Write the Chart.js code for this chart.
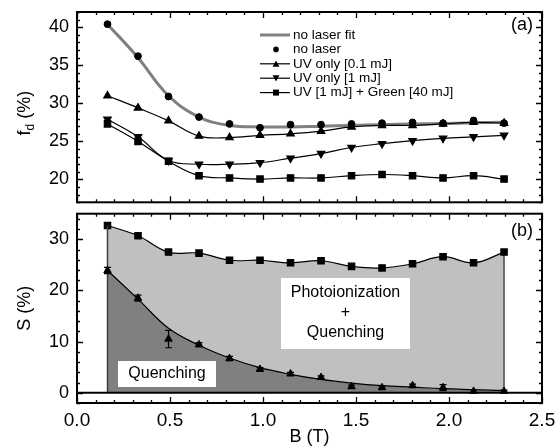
<!DOCTYPE html>
<html>
<head>
<meta charset="utf-8">
<script src="https://cdn.jsdelivr.net/npm/chart.js@4.4.0/dist/chart.umd.min.js"></script>
<style>
  body { margin: 0; background: #fff; }
  .box { position: absolute; left: 0; width: 559px; }
</style>
</head>
<body>
<div class="box" style="top:0;height:208px"><canvas id="topChart" width="559" height="208"></canvas></div>
<div class="box" style="top:208px;height:240px"><canvas id="botChart" width="559" height="240"></canvas></div>
<script>
// magnetic field values (T)
const B = [0.164, 0.328, 0.492, 0.656, 0.820, 0.984, 1.148, 1.312, 1.476, 1.640, 1.804, 1.968, 2.132, 2.296];

// panel (a): f_d (%)
const noLaserFit = [40.4, 36.0, 31.0, 28.2, 27.1, 26.9, 26.9, 27.0, 27.1, 27.2, 27.3, 27.35, 27.45, 27.5];
const noLaser    = [40.4, 36.2, 30.9, 28.2, 27.3, 26.8, 27.2, 27.2, 27.3, 27.4, 27.5, 27.4, 27.75, 27.4];
const uvLow      = [31.0, 29.4, 27.7, 25.7, 25.5, 25.8, 26.0, 26.35, 26.9, 27.1, 27.1, 27.3, 27.5, 27.4];
const uvHigh     = [27.9, 25.6, 22.5, 22.0, 22.0, 22.2, 22.8, 23.4, 24.2, 24.7, 25.1, 25.4, 25.6, 25.8];
const uvGreen    = [27.3, 25.0, 22.4, 20.5, 20.2, 20.05, 20.2, 20.2, 20.5, 20.65, 20.5, 20.2, 20.5, 20.05];

// panel (b): S (%)
const sTotal     = [32.7, 30.7, 27.5, 27.3, 25.9, 25.9, 25.4, 25.8, 24.7, 24.4, 25.2, 26.6, 25.4, 27.5];
const sQuench    = [23.9, 18.5, 10.5, 9.4, 6.7, 4.6, 3.7, 3.0, 1.2, 1.0, 1.4, 1.0, 0.3, 0.3];
const sQuenchErr = [0.6, 0.6, 1.7, 0.4, 0.4, 0.3, 0.3, 0.3, 0.3, 0.3, 0.3, 0.6, 0.3, 0.2];
const sQuenchFit = [23.9, 18.3, 12.6, 9.3, 6.8, 4.9, 3.6, 2.6, 1.9, 1.4, 1.1, 0.8, 0.6, 0.4];

// tick labels
const xTicks = [0.0, 0.5, 1.0, 1.5, 2.0, 2.5];
const topYTicks = [20, 25, 30, 35, 40];
const botYTicks = [0, 10, 20, 30];

Chart.defaults.font.family = "'Liberation Sans', Arial, sans-serif";
Chart.defaults.color = '#000';

const pts = (ys) => B.map((b, i) => ({ x: b, y: ys[i] }));

// no label overhang padding, so the plot boxes line up exactly
function noPad(s) { s.paddingTop = 0; s.paddingBottom = 0; s.paddingLeft = 0; s.paddingRight = 0; }

// inward ticks on all four sides + thick frame
const frameTicks = {
  id: 'frameTicks',
  afterDraw(chart, args, o) {
    const { ctx, chartArea: a, scales: { x, y } } = chart;
    ctx.save();
    ctx.strokeStyle = '#000';
    ctx.lineWidth = 1.3;
    const nx = Math.round((x.max - x.min) / o.xMinor);
    for (let i = 0; i <= nx; i++) {
      const v = x.min + i * o.xMinor;
      const len = (Math.abs(v / o.xMajor - Math.round(v / o.xMajor)) < 1e-6) ? 6 : 3;
      const px = Math.round(x.getPixelForValue(v)) + 0.5;
      ctx.beginPath();
      ctx.moveTo(px, a.top); ctx.lineTo(px, a.top + len);
      ctx.moveTo(px, a.bottom); ctx.lineTo(px, a.bottom - len);
      ctx.stroke();
    }
    const start = Math.ceil(y.min / o.yMinor), end = Math.floor(y.max / o.yMinor);
    for (let i = start; i <= end; i++) {
      const v = i * o.yMinor;
      const len = (Math.abs(v / o.yMajor - Math.round(v / o.yMajor)) < 1e-6) ? 6 : 3;
      const py = Math.round(y.getPixelForValue(v)) + 0.5;
      ctx.beginPath();
      ctx.moveTo(a.left, py); ctx.lineTo(a.left + len, py);
      ctx.moveTo(a.right, py); ctx.lineTo(a.right - len, py);
      ctx.stroke();
    }
    ctx.lineWidth = 2;
    ctx.strokeRect(a.left, a.top, a.right - a.left, a.bottom - a.top);
    ctx.restore();
  }
};

// legend, panel tag and y title of panel (a)
const topExtras = {
  id: 'topExtras',
  afterDraw(chart) {
    const { ctx, chartArea: a } = chart;
    ctx.save();
    ctx.fillStyle = '#000';
    ctx.strokeStyle = '#000';
    const rows = [
      { text: 'no laser fit', line: '#808080', lw: 3, marker: null },
      { text: 'no laser', line: null, marker: 'circle' },
      { text: 'UV only [0.1 mJ]', line: '#000', lw: 1.2, marker: 'triangle' },
      { text: 'UV only [1 mJ]', line: '#000', lw: 1.2, marker: 'triangleDown' },
      { text: 'UV [1 mJ] + Green [40 mJ]', line: '#000', lw: 1.2, marker: 'rect' }
    ];
    ctx.font = "13.5px 'Liberation Sans', Arial, sans-serif";
    ctx.textBaseline = 'middle';
    rows.forEach((r, i) => {
      const yy = 35 + i * 14.4;
      if (r.line) {
        ctx.beginPath();
        ctx.strokeStyle = r.line; ctx.lineWidth = r.lw;
        ctx.moveTo(260, yy); ctx.lineTo(290, yy); ctx.stroke();
      }
      if (r.marker) {
        ctx.beginPath();
        if (r.marker === 'circle') ctx.arc(276, yy, 2.8, 0, Math.PI * 2);
        if (r.marker === 'triangle') { ctx.moveTo(272.5, yy + 3); ctx.lineTo(279.5, yy + 3); ctx.lineTo(276, yy - 3.2); }
        if (r.marker === 'triangleDown') { ctx.moveTo(272.5, yy - 3); ctx.lineTo(279.5, yy - 3); ctx.lineTo(276, yy + 3.2); }
        if (r.marker === 'rect') ctx.rect(273, yy - 3, 6, 6);
        ctx.closePath();
        ctx.fill();
      }
      ctx.fillStyle = '#000';
      ctx.textAlign = 'left';
      ctx.fillText(r.text, 293, yy);
    });
    // panel tag
    ctx.font = "18px 'Liberation Sans', Arial, sans-serif";
    ctx.textAlign = 'right';
    ctx.fillText('(a)', a.right - 9, a.top + 13);
    // y title f_d (%)
    ctx.translate(25, (a.top + a.bottom) / 2 + 6);
    ctx.rotate(-Math.PI / 2);
    const big = "18px 'Liberation Sans', Arial, sans-serif";
    const small = "12px 'Liberation Sans', Arial, sans-serif";
    ctx.font = big; const w1 = ctx.measureText('f').width; const w3 = ctx.measureText(' (%)').width;
    ctx.font = small; const w2 = ctx.measureText('d').width;
    let sx = -(w1 + w2 + w3) / 2;
    ctx.textAlign = 'left';
    ctx.font = big; ctx.fillText('f', sx, 0); sx += w1;
    ctx.font = small; ctx.fillText('d', sx, 6); sx += w2;
    ctx.font = big; ctx.fillText(' (%)', sx, 0);
    ctx.restore();
  }
};

// error bars, text boxes and tag of panel (b)
const botExtras = {
  id: 'botExtras',
  afterDatasetsDraw(chart) {
    const { ctx, chartArea: a, scales: { x, y } } = chart;
    ctx.save();
    ctx.strokeStyle = '#000';
    ctx.lineWidth = 1.2;
    B.forEach((b, i) => {
      const px = x.getPixelForValue(b);
      const y1 = y.getPixelForValue(sQuench[i] - sQuenchErr[i]);
      const y2 = y.getPixelForValue(sQuench[i] + sQuenchErr[i]);
      ctx.beginPath();
      ctx.moveTo(px, y1); ctx.lineTo(px, y2);
      ctx.moveTo(px - 3.5, y1); ctx.lineTo(px + 3.5, y1);
      ctx.moveTo(px - 3.5, y2); ctx.lineTo(px + 3.5, y2);
      ctx.stroke();
    });
    ctx.fillStyle = '#fff';
    ctx.fillRect(281, 278 - 208, 129, 71);
    ctx.fillRect(118, 361 - 208, 98, 26);
    ctx.fillStyle = '#000';
    ctx.font = "16px 'Liberation Sans', Arial, sans-serif";
    ctx.textAlign = 'center';
    ctx.textBaseline = 'middle';
    ctx.fillText('Photoionization', 345.5, 293 - 208);
    ctx.fillText('+', 345.5, 313 - 208);
    ctx.fillText('Quenching', 345.5, 333 - 208);
    ctx.fillText('Quenching', 167, 374 - 208);
    ctx.font = "18px 'Liberation Sans', Arial, sans-serif";
    ctx.textAlign = 'right';
    ctx.fillText('(b)', a.right - 9, a.top + 17);
    ctx.restore();
  }
};

const hiddenGrid = { display: false, drawTicks: false };

new Chart(document.getElementById('topChart'), {
  type: 'line',
  data: {
    datasets: [
      { label: 'no laser fit', data: pts(noLaserFit), borderColor: '#808080', borderWidth: 3, pointRadius: 0, tension: 0.4, order: 10 },
      { label: 'no laser', data: pts(noLaser), showLine: false, pointStyle: 'circle', pointRadius: 3.4, backgroundColor: '#000', borderColor: '#000' },
      { label: 'UV only [0.1 mJ]', data: pts(uvLow), borderColor: '#000', backgroundColor: '#000', borderWidth: 1.2, pointStyle: 'triangle', pointRadius: 4.3, tension: 0.4 },
      { label: 'UV only [1 mJ]', data: pts(uvHigh), borderColor: '#000', backgroundColor: '#000', borderWidth: 1.2, pointStyle: 'triangle', pointRotation: 180, pointRadius: 4.3, tension: 0.4 },
      { label: 'UV [1 mJ] + Green [40 mJ]', data: pts(uvGreen), borderColor: '#000', backgroundColor: '#000', borderWidth: 1.2, pointStyle: 'rect', pointRadius: 4.5, tension: 0.4 }
    ]
  },
  options: {
    responsive: false,
    animation: false,
    layout: { padding: { top: 12, bottom: 5, left: 0, right: 17 } },
    plugins: {
      legend: { display: false },
      tooltip: { enabled: false },
      frameTicks: { xMinor: 0.1, xMajor: 0.5, yMinor: 1, yMajor: 5 }
    },
    scales: {
      x: {
        type: 'linear', min: 0, max: 2.5,
        ticks: { display: false },
        grid: hiddenGrid, border: { display: false },
        afterFit(s) { s.height = 0; noPad(s); }
      },
      y: {
        min: 17, max: 42,
        afterBuildTicks(s) { s.ticks = topYTicks.map(v => ({ value: v })); },
        ticks: { font: { size: 18 }, padding: 8, color: '#000' },
        grid: hiddenGrid, border: { display: false },
        afterFit(s) { s.width = 77; noPad(s); }
      }
    }
  },
  plugins: [frameTicks, topExtras]
});

new Chart(document.getElementById('botChart'), {
  type: 'line',
  data: {
    datasets: [
      { label: 'Photoionization + Quenching', data: pts(sTotal), borderColor: '#000', backgroundColor: '#c0c0c0', pointBackgroundColor: '#000', borderWidth: 1.2, pointStyle: 'rect', pointRadius: 4.5, tension: 0.4, fill: { target: 1 }, order: 3 },
      { label: 'Quenching fit', data: pts(sQuenchFit), borderColor: '#000', backgroundColor: '#808080', borderWidth: 1.2, pointRadius: 0, tension: 0.4, fill: 'origin', order: 2 },
      { label: 'Quenching', data: pts(sQuench), showLine: false, pointStyle: 'triangle', pointRadius: 4.3, backgroundColor: '#000', borderColor: '#000', order: 0 },
      { label: 'zero', data: [{ x: 0, y: 0 }, { x: 2.5, y: 0 }], borderColor: '#000', borderWidth: 2, pointRadius: 0, order: 1 },
      { label: 'left edge', data: [{ x: B[0], y: 0 }, { x: B[0], y: sTotal[0] }], borderColor: '#404040', borderWidth: 1.5, pointRadius: 0, order: 1 },
      { label: 'right edge', data: [{ x: B[B.length - 1], y: 0 }, { x: B[B.length - 1], y: sTotal[sTotal.length - 1] }], borderColor: '#000', borderWidth: 1, pointRadius: 0, order: 1 }
    ]
  },
  options: {
    responsive: false,
    animation: false,
    layout: { padding: { top: 4, bottom: 0, left: 0, right: 17 } },
    plugins: {
      legend: { display: false },
      tooltip: { enabled: false },
      filler: { propagate: false },
      frameTicks: { xMinor: 0.1, xMajor: 0.5, yMinor: 2, yMajor: 10 }
    },
    elements: { line: { fill: false } },
    scales: {
      x: {
        type: 'linear', min: 0, max: 2.5,
        afterBuildTicks(s) { s.ticks = xTicks.map(v => ({ value: v })); },
        ticks: { font: { size: 19 }, padding: 6, color: '#000', maxRotation: 0, callback: v => v.toFixed(1) },
        title: { display: true, text: 'B (T)', font: { size: 18 }, padding: { top: 0, bottom: 0 } },
        grid: hiddenGrid, border: { display: false },
        afterFit(s) { s.height = 45; noPad(s); }
      },
      y: {
        min: -2, max: 35,
        afterBuildTicks(s) { s.ticks = botYTicks.map(v => ({ value: v })); },
        ticks: { font: { size: 18 }, padding: 8, color: '#000' },
        title: { display: true, text: 'S (%)', font: { size: 18 }, padding: { top: 14, bottom: 0 } },
        grid: hiddenGrid, border: { display: false },
        afterFit(s) { s.width = 77; noPad(s); }
      }
    }
  },
  plugins: [frameTicks, botExtras]
});
</script>
</body>
</html>
